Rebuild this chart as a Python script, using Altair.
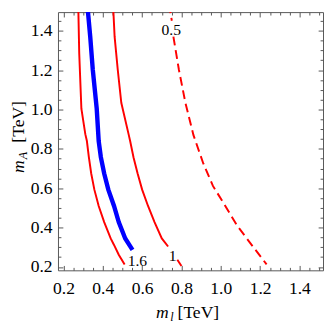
import altair as alt
import pandas as pd

# ---------------- data ----------------
# contour "1.6" (red, solid)
c16_x = [0.275, 0.280, 0.291, 0.311, 0.319, 0.329, 0.341, 0.357, 0.379, 0.407, 0.440, 0.457, 0.481, 0.511]
c16_y = [1.534, 1.286, 1.004, 0.875, 0.840, 0.758, 0.675, 0.593, 0.510, 0.428, 0.345, 0.312, 0.262, 0.213]
# blue thick curve
blue_x = [0.321, 0.336, 0.349, 0.369, 0.379, 0.390, 0.407, 0.428, 0.457, 0.481, 0.514, 0.551]
blue_y = [1.534, 1.370, 1.202, 1.004, 0.840, 0.758, 0.675, 0.593, 0.510, 0.428, 0.345, 0.287]
# contour "1" (red, solid), broken by its label
c1_x = [0.452, 0.460, 0.476, 0.494, 0.531, 0.539, 0.556, 0.577, 0.600, 0.630, 0.663, 0.700, 0.732]
c1_y = [1.534, 1.370, 1.202, 1.034, 0.875, 0.840, 0.758, 0.675, 0.593, 0.510, 0.428, 0.345, 0.304]
c1b_x = [0.779, 0.800]
c1b_y = [0.237, 0.205]
# contour "0.5" (red, dashed), broken by its label
c05a_x = [0.737, 0.751]
c05a_y = [1.534, 1.451]
c05b_x = [0.759, 0.787, 0.820, 0.861, 0.911, 0.960, 1.018, 1.084, 1.151, 1.233]
c05b_y = [1.370, 1.202, 1.034, 0.870, 0.726, 0.612, 0.518, 0.409, 0.320, 0.213]

# contour labels
lab_text = ["0.5", "1.6", "1"]
lab_x = [0.748, 0.576, 0.755]
lab_y = [1.401, 0.229, 0.256]

# ticks
x_major = [0.2, 0.4, 0.6, 0.8, 1.0, 1.2, 1.4]
x_minor = [0.25, 0.3, 0.35, 0.45, 0.5, 0.55, 0.65, 0.7, 0.75, 0.85, 0.9, 0.95,
           1.05, 1.1, 1.15, 1.25, 1.3, 1.35, 1.45, 1.5]
y_major = [0.2, 0.4, 0.6, 0.8, 1.0, 1.2, 1.4]
y_minor = [0.25, 0.3, 0.35, 0.45, 0.5, 0.55, 0.65, 0.7, 0.75, 0.85, 0.9, 0.95,
           1.05, 1.1, 1.15, 1.25, 1.3, 1.35, 1.45]

X_DOMAIN = [0.172, 1.52]
Y_DOMAIN = [0.183, 1.495]

# ---------------- tables ----------------
def seg(name, xs, ys):
    return pd.DataFrame({"seg": name, "i": range(len(xs)), "x": xs, "y": ys})

red_df = pd.concat([seg("c16", c16_x, c16_y), seg("c1", c1_x, c1_y), seg("c1b", c1b_x, c1b_y)])
blue_df = seg("blue", blue_x, blue_y)
dash_df = pd.concat([seg("c05a", c05a_x, c05a_y), seg("c05b", c05b_x, c05b_y)])
lab_df = pd.DataFrame({"t": lab_text, "x": lab_x, "y": lab_y})

FONT = "Liberation Serif"
RED = "#ff0000"
BLUE = "#0000ff"
GRAY = "#555555"
FS = 18

xs = alt.Scale(domain=X_DOMAIN, nice=False, zero=False)
ys = alt.Scale(domain=Y_DOMAIN, nice=False, zero=False)

x_lab_axis = alt.Axis(values=x_major, format=".1f", ticks=False, domain=False, grid=False,
                      labelFont=FONT, labelFontSize=FS, labelColor="black", labelPadding=10,
                      title=None, orient="bottom")
y_lab_axis = alt.Axis(values=y_major, format=".1f", ticks=False, domain=False, grid=False,
                      labelFont=FONT, labelFontSize=FS, labelColor="black", labelPadding=6,
                      title=None, orient="left")

red = alt.Chart(red_df).mark_line(color=RED, strokeWidth=2, clip=True).encode(
    x=alt.X("x:Q", scale=xs, axis=x_lab_axis),
    y=alt.Y("y:Q", scale=ys, axis=y_lab_axis),
    detail="seg:N", order="i:Q")

blue = alt.Chart(blue_df).mark_line(color=BLUE, strokeWidth=4.5, clip=True).encode(
    x=alt.X("x:Q", scale=xs, axis=None),
    y=alt.Y("y:Q", scale=ys, axis=None),
    order="i:Q")

dashed = alt.Chart(dash_df).mark_line(color=RED, strokeWidth=2, strokeDash=[9, 5], clip=True).encode(
    x=alt.X("x:Q", scale=xs, axis=None),
    y=alt.Y("y:Q", scale=ys, axis=None),
    detail="seg:N", order="i:Q")

labels = alt.Chart(lab_df).mark_text(font=FONT, fontSize=16, color="black").encode(
    x=alt.X("x:Q", scale=xs, axis=None),
    y=alt.Y("y:Q", scale=ys, axis=None),
    text="t:N")


def tick_axis(values, orient, size):
    return alt.Axis(values=values, orient=orient, tickSize=size, offset=-size, labels=False,
                    domain=False, grid=False, title=None, tickColor=GRAY, tickWidth=1)


def tick_layer(xv, xo, yv, yo, size):
    return alt.Chart(red_df).mark_point(opacity=0).encode(
        x=alt.X("x:Q", scale=xs, axis=tick_axis(xv, xo, size)),
        y=alt.Y("y:Q", scale=ys, axis=tick_axis(yv, yo, size)))


t1 = tick_layer(x_major, "bottom", y_major, "left", 5)
t2 = tick_layer(x_minor, "bottom", y_minor, "left", 3)
t3 = tick_layer(x_major, "top", y_major, "right", 5)
t4 = tick_layer(x_minor, "top", y_minor, "right", 3)


def txt(s, x, y, size, italic=False, angle=0):
    kw = dict(text=s, font=FONT, fontSize=size, color="black", align="left", baseline="alphabetic")
    if italic:
        kw["fontStyle"] = "italic"
    if angle:
        kw["angle"] = angle
    return alt.Chart(pd.DataFrame({"k": [0]})).mark_text(**kw).encode(
        x=alt.value(x), y=alt.value(y))


titles = [
    txt("m", 100.7, 313.5, FS, italic=True),
    txt("l", 115.2, 316.5, 12.5, italic=True),
    txt("[TeV]", 122.7, 313.5, FS),
    txt("m", -34.8, 165, FS, italic=True, angle=270),
    txt("A", -31.8, 151, 12.5, italic=True, angle=270),
    txt("[TeV]", -34.8, 134, FS, angle=270),
]

chart = alt.layer(red, blue, dashed, labels, t1, t2, t3, t4, *titles).resolve_axis(
    x="independent", y="independent"
).properties(
    width=272, height=265,
    autosize=alt.AutoSizeParams(type="none"),
    padding={"left": 51.3, "top": 0, "right": 1, "bottom": 56},
).configure_view(stroke=GRAY, strokeWidth=1)

chart.save("out.html", embed_options={"renderer": "svg", "actions": False})
